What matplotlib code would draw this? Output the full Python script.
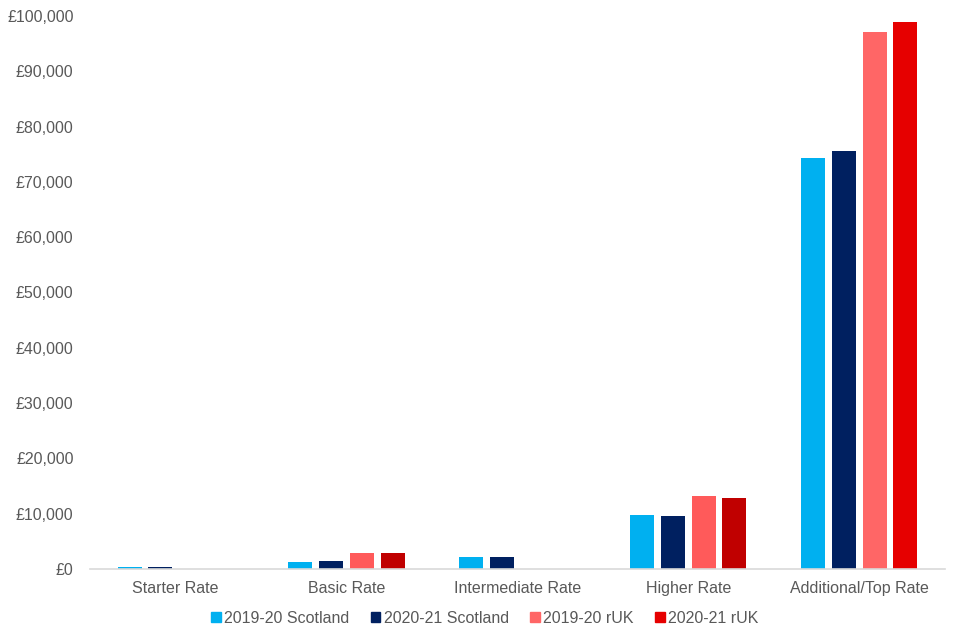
import matplotlib
matplotlib.use("Agg")
import matplotlib.pyplot as plt
import numpy as np
from matplotlib.patches import Patch
from matplotlib.ticker import FuncFormatter

plt.rcParams['font.family'] = ['Liberation Sans', 'DejaVu Sans']

categories = ["Starter Rate", "Basic Rate", "Intermediate Rate", "Higher Rate", "Additional/Top Rate"]
series_names = ["2019-20 Scotland", "2020-21 Scotland", "2019-20 rUK", "2020-21 rUK"]
scot_1920 = [300, 1300, 2200, 9800, 74300]
scot_2021 = [350, 1500, 2200, 9600, 75600]
ruk_1920 = [0, 2900, 0, 13200, 97100]
ruk_2021 = [0, 2900, 0, 12800, 98900]

legend_colors = ["#00B0F0", "#002060", "#FF6666", "#E60000"]
bar_colors = [
    ["#00B0F0"] * 5,
    ["#002060"] * 5,
    ["#FF5A5A", "#FF5A5A", "#FF5A5A", "#FF5A5A", "#FF6666"],
    ["#C00000", "#C00000", "#C00000", "#C00000", "#E60000"],
]
series = [scot_1920, scot_2021, ruk_1920, ruk_2021]

fig = plt.figure(figsize=(9.6, 6.4), dpi=100)
ax = fig.add_axes([0.094, 0.111, 0.89, 0.864])

x = np.arange(len(categories))
width = 0.14
step = 0.18
for i, vals in enumerate(series):
    offs = (i - 1.5) * step
    ax.bar(x + offs, vals, width=width, color=bar_colors[i])

ax.set_xlim(-0.5, len(categories) - 0.5)
ax.set_ylim(0, 100000)
ax.set_yticks(np.arange(0, 100001, 10000))
ax.yaxis.set_major_formatter(FuncFormatter(lambda v, p: "£{:,.0f}".format(v)))
ax.set_xticks(x)
ax.set_xticklabels(categories)

for s in ["top", "right", "left"]:
    ax.spines[s].set_visible(False)
ax.spines["bottom"].set_color("#D9D9D9")
ax.spines["bottom"].set_linewidth(1.2)
ax.tick_params(axis="both", length=0, labelsize=11.5, colors="#595959")
ax.tick_params(axis="x", pad=9)
ax.tick_params(axis="y", pad=12)

handles = [Patch(color=c, label=n) for c, n in zip(legend_colors, series_names)]
fig.legend(handles=handles, loc="center", bbox_to_anchor=(0.505, 0.034), ncol=4,
           frameon=False, fontsize=11.5, handlelength=0.6, handleheight=0.6,
           handletextpad=0.2, columnspacing=1.35, labelcolor="#595959")

fig.savefig("out.png", dpi=100)
